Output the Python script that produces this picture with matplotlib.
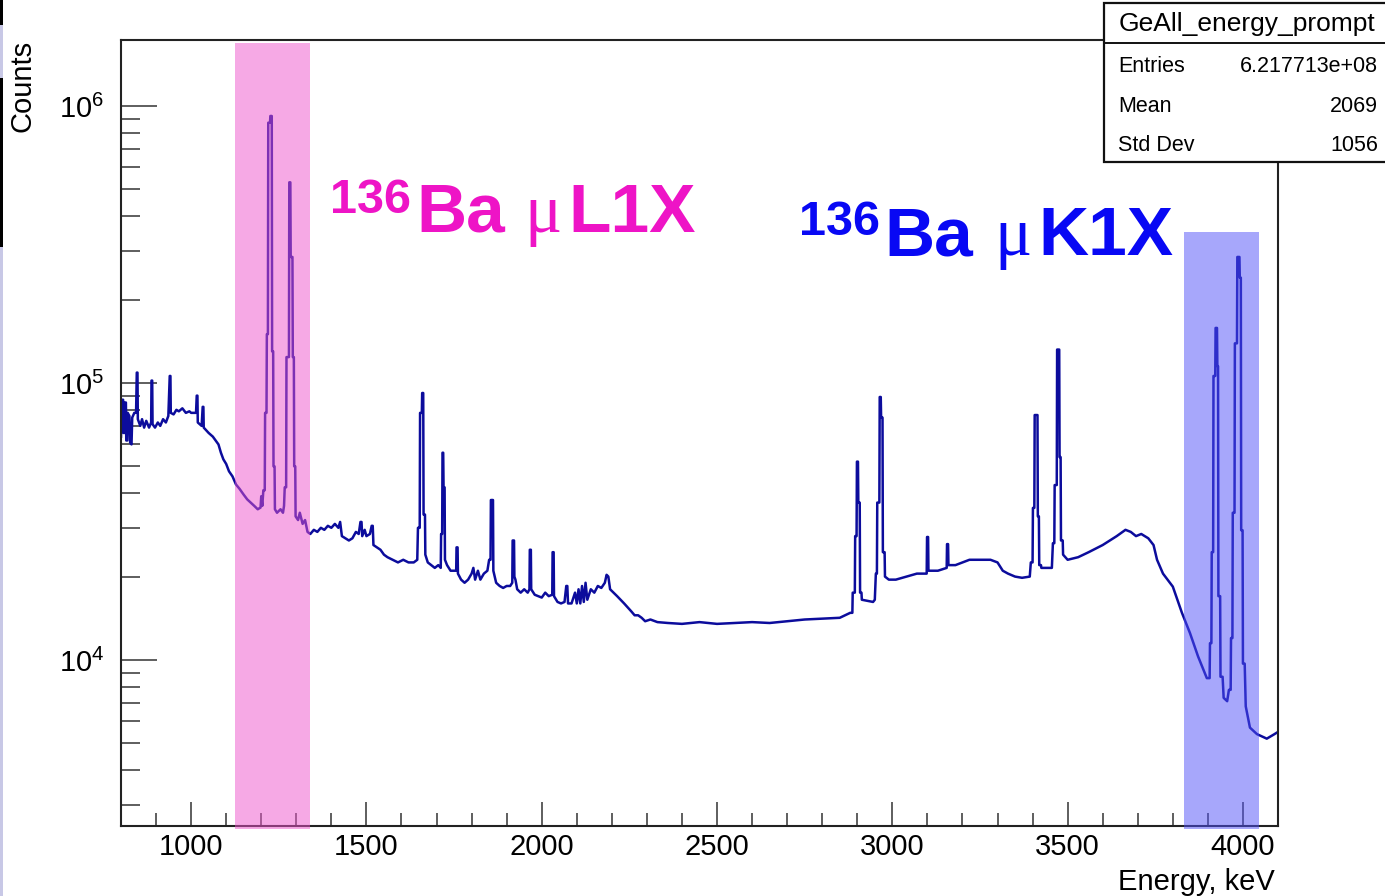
"""
Spekter GeAll_energy_prompt z oznakama za 136Ba muonske X-žarke (L1X in K1X)
"""

import matplotlib
matplotlib.use('Agg')
from matplotlib import pyplot as plt
from matplotlib.patches import Rectangle
from matplotlib.lines import Line2D
from matplotlib.ticker import MultipleLocator, LogLocator, NullFormatter
from matplotlib.transforms import blended_transform_factory

# Vrednosti, odčitane s slike (energija v keV, število dogodkov)
energija = [
    800, 803, 806, 807, 810, 811, 814, 815, 818, 819, 824, 826, 830, 832, 838, 843,
    845, 847, 848, 855, 860, 866, 872, 880, 886, 887, 889, 890, 897, 905, 912, 920,
    928, 935, 939, 941, 942, 950, 958, 965, 975, 985, 995, 1000, 1014, 1016, 1018,
    1019, 1030, 1033, 1035, 1036, 1050, 1062, 1070, 1078, 1085, 1092, 1100, 1108,
    1118, 1128, 1138, 1150, 1160, 1170, 1180, 1190, 1198, 1200, 1203, 1206, 1210,
    1211, 1215, 1216, 1219, 1220, 1225, 1226, 1230, 1231, 1234, 1235, 1238, 1239,
    1245, 1255, 1262, 1265, 1267, 1271, 1272, 1279, 1280, 1283, 1284, 1289, 1290,
    1293, 1294, 1297, 1298, 1305, 1310, 1318, 1325, 1332, 1340, 1350, 1360, 1370,
    1380, 1390, 1400, 1410, 1420, 1425, 1430, 1440, 1450, 1460, 1470, 1478, 1483,
    1486, 1488, 1495, 1500, 1510, 1515, 1518, 1520, 1530, 1540, 1550, 1560, 1575,
    1590, 1605, 1620, 1635, 1645, 1647, 1652, 1653, 1658, 1659, 1662, 1663, 1667,
    1668, 1675, 1685, 1695, 1705, 1712, 1713, 1716, 1717, 1719, 1720, 1723, 1724,
    1730, 1740, 1750, 1756, 1757, 1760, 1761, 1770, 1780, 1790, 1800, 1805, 1810,
    1818, 1825, 1835, 1845, 1850, 1854, 1855, 1861, 1862, 1866, 1870, 1880, 1890,
    1900, 1910, 1916, 1917, 1921, 1922, 1925, 1930, 1940, 1950, 1960, 1965, 1966,
    1969, 1970, 1980, 1990, 2000, 2010, 2020, 2030, 2031, 2034, 2035, 2045, 2055,
    2065, 2070, 2073, 2075, 2085, 2095, 2100, 2105, 2110, 2115, 2120, 2125, 2130,
    2140, 2150, 2160, 2170, 2180, 2185, 2190, 2195, 2205, 2215, 2225, 2235, 2245,
    2255, 2265, 2275, 2285, 2295, 2310, 2330, 2360, 2400, 2450, 2500, 2550, 2600,
    2650, 2700, 2750, 2800, 2850, 2880, 2886, 2887, 2893, 2894, 2898, 2899, 2902,
    2903, 2907, 2908, 2912, 2913, 2945, 2950, 2953, 2956, 2957, 2963, 2964, 2967,
    2968, 2972, 2973, 2978, 2979, 2990, 3010, 3040, 3070, 3098, 3099, 3102, 3103,
    3130, 3155, 3156, 3159, 3160, 3180, 3200, 3220, 3250, 3280, 3300, 3315, 3330,
    3350, 3370, 3392, 3395, 3400, 3401, 3405, 3406, 3414, 3415, 3418, 3419, 3424,
    3425, 3455, 3458, 3462, 3463, 3469, 3470, 3476, 3477, 3480, 3481, 3486, 3487,
    3500, 3530, 3560, 3600, 3640, 3665, 3680, 3695, 3710, 3730, 3745, 3755, 3772,
    3800, 3826, 3849, 3872, 3897, 3905, 3906, 3910, 3911, 3915, 3916, 3921, 3922,
    3926, 3927, 3929, 3930, 3935, 3936, 3942, 3945, 3955, 3960, 3965, 3966, 3970,
    3971, 3976, 3977, 3983, 3984, 3990, 3991, 3994, 3995, 3999, 4000, 4005, 4008,
    4020, 4040, 4068, 4090, 4100,
]
stevci = [
    6.4e4, 8.7e4, 8.7e4, 6.6e4, 6.6e4, 8.5e4, 8.5e4, 6.2e4, 6.2e4, 7.8e4, 7.6e4, 6.1e4, 6.0e4, 7.5e4, 7.8e4, 7.8e4,
    1.09e5, 1.09e5, 7.4e4, 7.0e4, 7.4e4, 6.9e4, 7.3e4, 6.9e4, 7.2e4, 1.02e5, 1.02e5, 7.1e4, 6.9e4, 7.2e4, 7.0e4, 7.4e4,
    7.2e4, 7.6e4, 1.06e5, 1.06e5, 7.8e4, 7.7e4, 8.0e4, 7.9e4, 8.1e4, 7.8e4, 7.9e4, 7.8e4, 7.8e4, 9.0e4, 9.0e4,
    7.2e4, 7.0e4, 8.2e4, 8.2e4, 6.9e4, 6.6e4, 6.4e4, 6.2e4, 6.0e4, 5.6e4, 5.3e4, 5.1e4, 4.8e4,
    4.6e4, 4.3e4, 4.15e4, 3.95e4, 3.8e4, 3.7e4, 3.6e4, 3.5e4, 3.55e4, 3.9e4, 3.6e4, 4.1e4, 4.1e4,
    7.8e4, 7.8e4, 1.5e5, 1.5e5, 8.7e5, 8.7e5, 9.2e5, 9.2e5, 1.3e5, 1.3e5, 5.0e4, 5.0e4, 3.5e4,
    3.4e4, 3.5e4, 3.4e4, 3.6e4, 4.2e4, 4.2e4, 1.24e5, 1.24e5, 5.3e5, 5.3e5, 2.85e5, 2.85e5, 1.24e5,
    1.24e5, 5.0e4, 5.0e4, 3.3e4, 3.2e4, 3.4e4, 3.1e4, 3.2e4, 2.9e4, 2.85e4, 2.95e4, 2.9e4, 3.0e4,
    2.95e4, 3.05e4, 3.0e4, 3.1e4, 3.0e4, 3.15e4, 2.8e4, 2.75e4, 2.7e4, 2.75e4, 2.9e4, 2.85e4, 3.15e4,
    3.15e4, 2.8e4, 2.95e4, 2.8e4, 2.85e4, 3.05e4, 3.05e4, 2.6e4, 2.55e4, 2.5e4, 2.4e4, 2.35e4, 2.3e4,
    2.25e4, 2.3e4, 2.25e4, 2.25e4, 2.3e4, 3.0e4, 3.0e4, 7.8e4, 7.8e4, 9.2e4, 9.2e4, 3.35e4, 3.35e4,
    2.4e4, 2.25e4, 2.2e4, 2.15e4, 2.2e4, 2.15e4, 2.85e4, 2.85e4, 5.6e4, 5.6e4, 4.2e4, 4.2e4, 2.3e4,
    2.2e4, 2.1e4, 2.1e4, 2.1e4, 2.55e4, 2.55e4, 2.05e4, 1.95e4, 1.9e4, 1.95e4, 2.05e4, 2.15e4, 1.95e4,
    2.1e4, 1.95e4, 2.05e4, 2.1e4, 2.3e4, 2.3e4, 3.78e4, 3.78e4, 2.1e4, 2.0e4, 1.9e4, 1.85e4, 1.82e4,
    1.85e4, 1.85e4, 1.9e4, 2.7e4, 2.7e4, 2.0e4, 1.95e4, 1.8e4, 1.75e4, 1.8e4, 1.75e4, 1.8e4, 2.5e4,
    2.5e4, 1.8e4, 1.72e4, 1.7e4, 1.68e4, 1.75e4, 1.7e4, 1.72e4, 2.45e4, 2.45e4, 1.7e4, 1.62e4, 1.6e4,
    1.62e4, 1.85e4, 1.85e4, 1.6e4, 1.6e4, 1.75e4, 1.6e4, 1.8e4, 1.6e4, 1.85e4, 1.62e4, 1.9e4, 1.65e4,
    1.8e4, 1.75e4, 1.85e4, 1.82e4, 1.9e4, 2.03e4, 2.0e4, 1.8e4, 1.75e4, 1.7e4, 1.65e4, 1.6e4, 1.55e4,
    1.5e4, 1.45e4, 1.45e4, 1.42e4, 1.38e4, 1.4e4, 1.37e4, 1.36e4, 1.35e4, 1.37e4, 1.35e4, 1.36e4, 1.37e4,
    1.36e4, 1.38e4, 1.4e4, 1.41e4, 1.42e4, 1.48e4, 1.48e4, 1.75e4, 1.75e4, 2.8e4, 2.8e4, 5.2e4, 5.2e4,
    3.7e4, 3.7e4, 1.75e4, 1.75e4, 1.65e4, 1.62e4, 1.65e4, 2.05e4, 2.05e4, 3.7e4, 3.7e4, 8.9e4, 8.9e4,
    7.5e4, 7.5e4, 2.45e4, 2.45e4, 2.0e4, 1.95e4, 1.95e4, 2.0e4, 2.05e4, 2.05e4, 2.78e4, 2.78e4, 2.1e4,
    2.1e4, 2.15e4, 2.62e4, 2.62e4, 2.2e4, 2.2e4, 2.25e4, 2.3e4, 2.3e4, 2.3e4, 2.25e4, 2.1e4, 2.05e4,
    2.0e4, 1.98e4, 2.0e4, 2.25e4, 2.25e4, 3.54e4, 3.54e4, 7.66e4, 7.66e4, 3.3e4, 3.3e4, 2.2e4, 2.2e4,
    2.15e4, 2.15e4, 2.64e4, 2.64e4, 4.28e4, 4.28e4, 1.32e5, 1.32e5, 5.4e4, 5.4e4, 2.7e4, 2.7e4, 2.4e4,
    2.3e4, 2.35e4, 2.45e4, 2.6e4, 2.8e4, 2.95e4, 2.9e4, 2.8e4, 2.85e4, 2.75e4, 2.6e4, 2.3e4, 2.05e4,
    1.84e4, 1.48e4, 1.25e4, 1.03e4, 8.6e3, 8.6e3, 1.15e4, 1.15e4, 2.45e4, 2.45e4, 1.06e5, 1.06e5, 1.58e5,
    1.58e5, 1.15e5, 1.15e5, 1.7e4, 1.7e4, 8.7e3, 8.7e3, 7.3e3, 7.1e3, 7.8e3, 7.8e3, 1.2e4, 1.2e4,
    3.4e4, 3.4e4, 1.39e5, 1.39e5, 2.85e5, 2.85e5, 2.4e5, 2.4e5, 2.94e4, 2.94e4, 9.7e3, 9.7e3, 6.8e3,
    5.7e3, 5.4e3, 5.2e3, 5.4e3, 5.5e3,
]

# Označena območja (keV)
pas_L = [1125, 1339]
pas_K = [3832, 4046]

# Statistika histograma
stat_ime = 'GeAll_energy_prompt'
stat_oznake = ['Entries', 'Mean', 'Std Dev']
stat_vrednosti = ['6.217713e+08', '2069', '1056']

plt.rcParams['font.family'] = ['Liberation Sans', 'DejaVu Sans']
plt.rcParams['mathtext.fontset'] = 'custom'
plt.rcParams['mathtext.rm'] = 'Liberation Sans'
plt.rcParams['mathtext.it'] = 'Liberation Sans:italic'
plt.rcParams['mathtext.bf'] = 'Liberation Sans:bold'

W, H = 1385, 896


def px(x, y):
    # slikovne točke -> delež slike
    return x / W, 1 - y / H


fig = plt.figure(figsize=(W / 100, H / 100), dpi=100)
fig.patch.set_facecolor('white')

x0, y0 = px(121, 826)
x1, y1 = px(1278, 40)
ax = fig.add_axes([x0, y0, x1 - x0, y1 - y0])

ax.plot(energija, stevci, color='#0c0c9c', lw=1.8)
ax.set_yscale('log')
ax.set_xlim(800, 4100)
ax.set_ylim(2516, 1.73e6)

ax.xaxis.set_major_locator(MultipleLocator(500))
ax.xaxis.set_minor_locator(MultipleLocator(100))
ax.yaxis.set_major_locator(LogLocator(base=10))
ax.yaxis.set_minor_locator(LogLocator(base=10, subs=range(2, 10)))
ax.yaxis.set_minor_formatter(NullFormatter())

for s in ax.spines.values():
    s.set_linewidth(1.5)
    s.set_color('#222222')

ax.tick_params(axis='both', which='both', direction='in', top=False, right=False,
               color='#333333', width=1.1)
ax.tick_params(axis='x', which='major', length=17, pad=5, labelsize=21)
ax.tick_params(axis='x', which='minor', length=9.5)
ax.tick_params(axis='y', which='major', length=26, pad=12, labelsize=21)
ax.tick_params(axis='y', which='minor', length=14)

ax.set_xlabel('Energy, keV', fontsize=21, loc='right')
ax.xaxis.set_label_coords(0.9975, -0.054)
ax.set_ylabel('Counts', fontsize=21, loc='top')
ax.yaxis.set_label_coords(-0.073, 1.0)

# Polprosojna pasova čez graf (kot na prosojnici)
trans = blended_transform_factory(ax.transData, fig.transFigure)
for pas, barva, vrh in [(pas_L, '#ee55cc', 43), (pas_K, '#5050f8', 232)]:
    _, yb = px(0, 829)
    _, yt = px(0, vrh)
    ax.add_patch(Rectangle((pas[0], yb), pas[1] - pas[0], yt - yb, transform=trans,
                           facecolor=barva, alpha=0.5, lw=0, clip_on=False, zorder=5))

# Okvir s statistiko
bx, by = px(1104, 162)
_, bt = px(0, 3)
fig.add_artist(Rectangle((bx, by), 1.0 - bx + 0.01, bt - by, transform=fig.transFigure,
                         facecolor='white', edgecolor='#111111', lw=1.6, zorder=10))
lx, ly = px(1104, 43)
fig.add_artist(Line2D([lx, 1.0], [ly, ly], transform=fig.transFigure,
                      color='#111111', lw=1.4, zorder=11))
fig.text(*px(1247, 24), stat_ime, fontsize=19, ha='center', va='center', zorder=12)
for i, (o, v) in enumerate(zip(stat_oznake, stat_vrednosti)):
    yy = 67 + i * 39
    fig.text(*px(1118, yy), o, fontsize=15.5, ha='left', va='center', zorder=12)
    fig.text(*px(1378, yy), v, fontsize=15.5, ha='right', va='center', zorder=12)

# Napisa
roza = '#ee14c6'
modra = '#0808f4'
for barva, xs, bl, bl_sup, crke in [(roza, [330, 416, 524, 568], 232, 213, 'L1X'),
                                    (modra, [799, 884, 994, 1038], 255, 235, 'K1X')]:
    fig.text(*px(xs[0], bl_sup), '136', fontsize=35, fontweight='bold', color=barva,
             ha='left', va='baseline')
    fig.text(*px(xs[1], bl), 'Ba', fontsize=50, fontweight='bold', color=barva,
             ha='left', va='baseline')
    fig.text(*px(xs[2], bl), 'μ', fontsize=50, family=['Liberation Serif', 'DejaVu Serif'],
             color=barva, ha='left', va='baseline')
    fig.text(*px(xs[3], bl), crke, fontsize=50, fontweight='bold', color=barva,
             ha='left', va='baseline')

# Robovi posnetka zaslona na levi
for ya, yb_, c in [(0, 25, 'black'), (25, 78, '#c8c8e6'), (78, 247, 'black'),
                   (247, 896, '#c8c8e6')]:
    fx, fy = px(0, yb_)
    fig.add_artist(Rectangle((fx, fy), 3 / W, (yb_ - ya) / H, transform=fig.transFigure,
                             facecolor=c, lw=0, zorder=20))

plt.savefig('out.png', dpi=100)
